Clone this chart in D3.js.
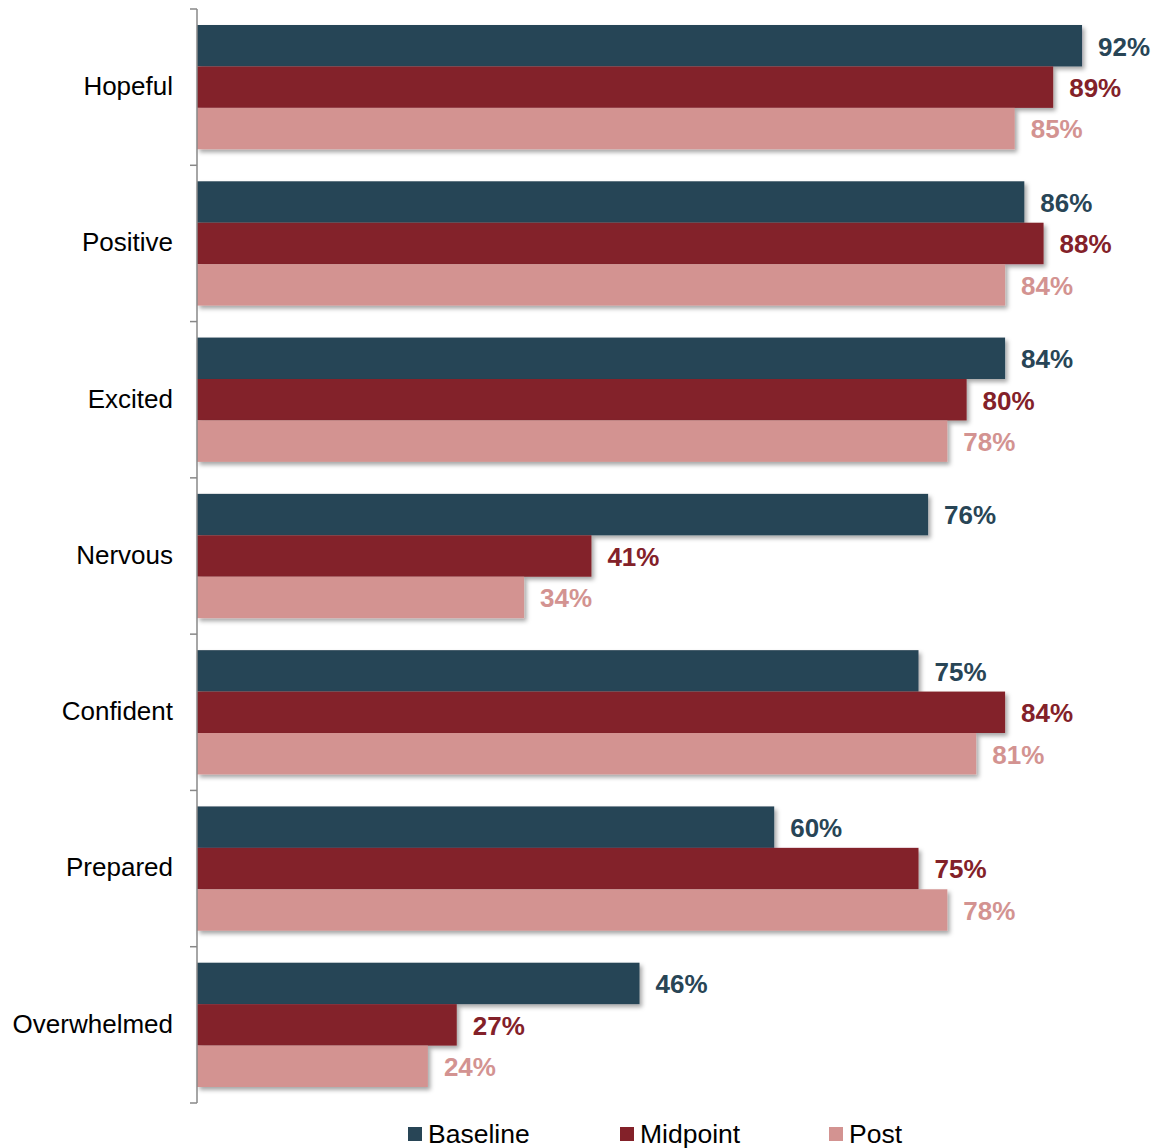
<!DOCTYPE html>
<html>
<head>
<meta charset="utf-8">
<script src="https://cdn.jsdelivr.net/npm/d3@7"></script>
<style>
  html, body { margin: 0; padding: 0; background: #fff; }
  svg { display: block; }
</style>
</head>
<body>
<svg id="chart" width="1158" height="1148"></svg>
<script>
// Share of respondents reporting each feeling, by survey wave
const categories = ["Hopeful", "Positive", "Excited", "Nervous", "Confident", "Prepared", "Overwhelmed"];
const seriesNames = ["Baseline", "Midpoint", "Post"];
const baseline = [92, 86, 84, 76, 75, 60, 46];
const midpoint = [89, 88, 80, 41, 84, 75, 27];
const post     = [85, 84, 78, 34, 81, 78, 24];
const seriesColors = ["#284556", "#832129", "#d39391"];

const seriesValues = [baseline, midpoint, post];

const svg = d3.select("#chart");
const font = "'Liberation Sans', Arial, Helvetica, sans-serif";

const defs = svg.append("defs");
const shadow = defs.append("filter")
  .attr("id", "barShadow")
  .attr("x", "-5%").attr("y", "-20%")
  .attr("width", "115%").attr("height", "160%");
shadow.append("feDropShadow")
  .attr("dx", 2.5).attr("dy", 3)
  .attr("stdDeviation", 2)
  .attr("flood-color", "#000")
  .attr("flood-opacity", 0.35);

const axisX = 197;
const x = d3.scaleLinear().domain([0, 100]).range([axisX, axisX + 962]);
const y = d3.scaleBand().domain(categories).range([9, 1103]).paddingInner(0).paddingOuter(0);
const groupPad = 16;
const inner = d3.scaleBand()
  .domain(seriesNames)
  .range([groupPad, y.bandwidth() - groupPad]);

// Bars, drawn per category so lower bars sit over the shadow of upper ones
const groups = svg.append("g").selectAll("g")
  .data(categories)
  .join("g")
  .attr("transform", d => `translate(0,${y(d)})`);

groups.each(function(cat, ci) {
  const g = d3.select(this);
  seriesNames.forEach((s, si) => {
    const v = seriesValues[si][ci];
    g.append("rect")
      .attr("x", x(0))
      .attr("y", inner(s))
      .attr("width", x(v) - x(0))
      .attr("height", inner.bandwidth())
      .attr("fill", seriesColors[si])
      .attr("filter", "url(#barShadow)");
  });
  seriesNames.forEach((s, si) => {
    const v = seriesValues[si][ci];
    g.append("text")
      .attr("x", x(v) + 16)
      .attr("y", inner(s) + inner.bandwidth() / 2 + 3)
      .attr("dominant-baseline", "middle")
      .attr("font-family", font)
      .attr("font-weight", "bold")
      .attr("font-size", 26)
      .attr("fill", seriesColors[si])
      .text(v + "%");
  });
});

// Category axis with ticks between bands
const axisG = svg.append("g");
axisG.append("line")
  .attr("x1", axisX).attr("x2", axisX)
  .attr("y1", y.range()[0]).attr("y2", y.range()[1])
  .attr("stroke", "#888").attr("stroke-width", 1.5);
const tickYs = categories.map(c => y(c)).concat([y.range()[1]]);
axisG.selectAll("line.tick")
  .data(tickYs)
  .join("line")
  .attr("class", "tick")
  .attr("x1", axisX - 7).attr("x2", axisX)
  .attr("y1", d => d).attr("y2", d => d)
  .attr("stroke", "#888").attr("stroke-width", 1.5);
axisG.selectAll("text")
  .data(categories)
  .join("text")
  .attr("x", 173)
  .attr("y", d => y(d) + y.bandwidth() / 2 + 1)
  .attr("text-anchor", "end")
  .attr("dominant-baseline", "middle")
  .attr("font-family", font)
  .attr("font-size", 26)
  .attr("fill", "#000")
  .text(d => d);

// Legend
const legendX = [408, 620, 829];
const legend = svg.append("g").selectAll("g")
  .data(seriesNames)
  .join("g")
  .attr("transform", (d, i) => `translate(${legendX[i]},1127)`);
legend.append("rect")
  .attr("width", 14).attr("height", 14)
  .attr("fill", (d, i) => seriesColors[i]);
legend.append("text")
  .attr("x", 20).attr("y", 16)
  .attr("font-family", font)
  .attr("font-size", 26.5)
  .attr("fill", "#000")
  .text(d => d);
</script>
</body>
</html>
